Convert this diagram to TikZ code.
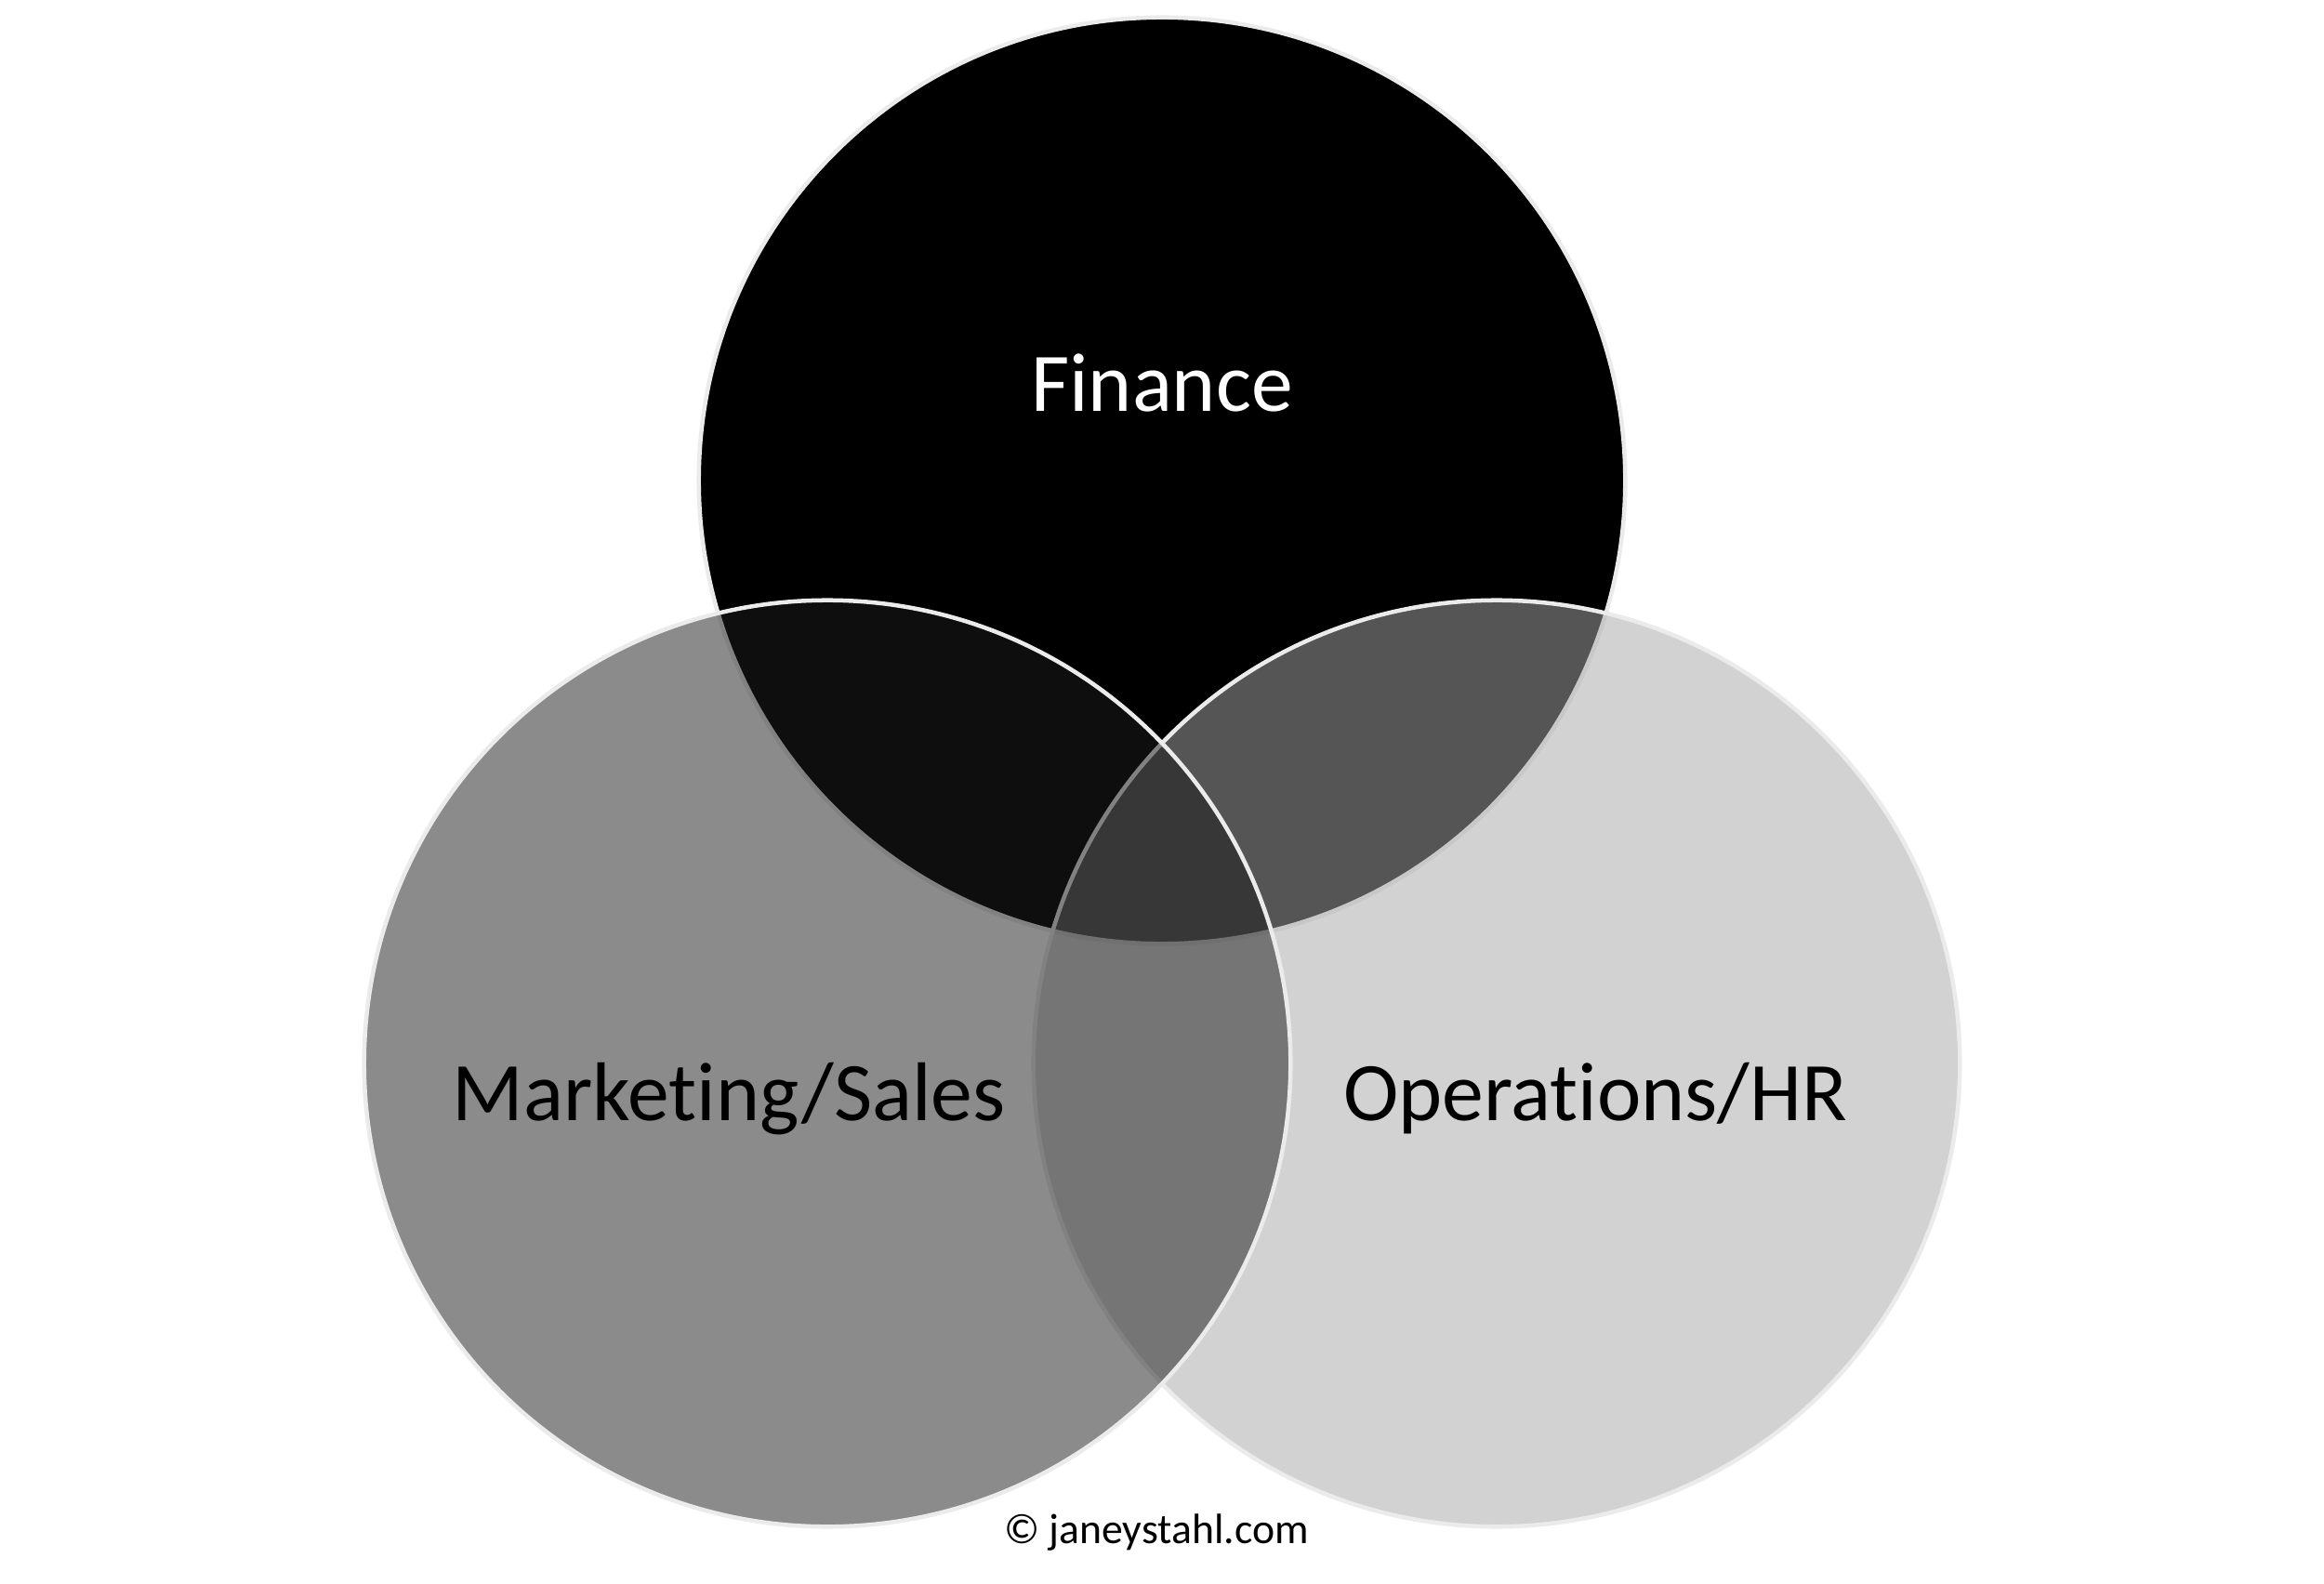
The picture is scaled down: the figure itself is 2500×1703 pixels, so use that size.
\documentclass[tikz,border=0pt]{standalone}
\usepackage{fontspec}
\setmainfont[Ligatures=NoCommon]{Carlito}
\definecolor{olc}{HTML}{EBEBEB}
\definecolor{opsfill}{HTML}{A7A7A7}
\definecolor{mktfill}{HTML}{1C1C1C}
\begin{document}
\begin{tikzpicture}[x=0.01cm,y=-0.01cm,
  venn/.style={circle, inner sep=0pt, minimum size=9.96cm, line width=0.045cm, draw=olc},
  biglabel/.style={anchor=base, inner sep=0pt, font=\fontsize{25.5}{30}\selectfont},
  smalllabel/.style={anchor=base, inner sep=0pt, font=\fontsize{13}{16}\selectfont}]
\fill[white] (0,0) rectangle (2500,1703);
\useasboundingbox (0,0) rectangle (2500,1703);
\node[venn, fill=black] (fin) at (1250,517) {};
\node[venn, fill=opsfill, fill opacity=0.51] (ops) at (1610,1144) {};
\node[venn, fill=mktfill, fill opacity=0.51] (mkt) at (890,1144) {};
\node[biglabel, text=white] (tfin) at (1250,442) {Finance};
\node[biglabel, text=black] (tmkt) at (784,1205) {Marketing/Sales};
\node[biglabel, text=black] (tops) at (1716,1205) {Operations/HR};
\node[smalllabel, text=black] (copy) at (1244,1660) {© janeystahl.com};
\end{tikzpicture}
\end{document}
